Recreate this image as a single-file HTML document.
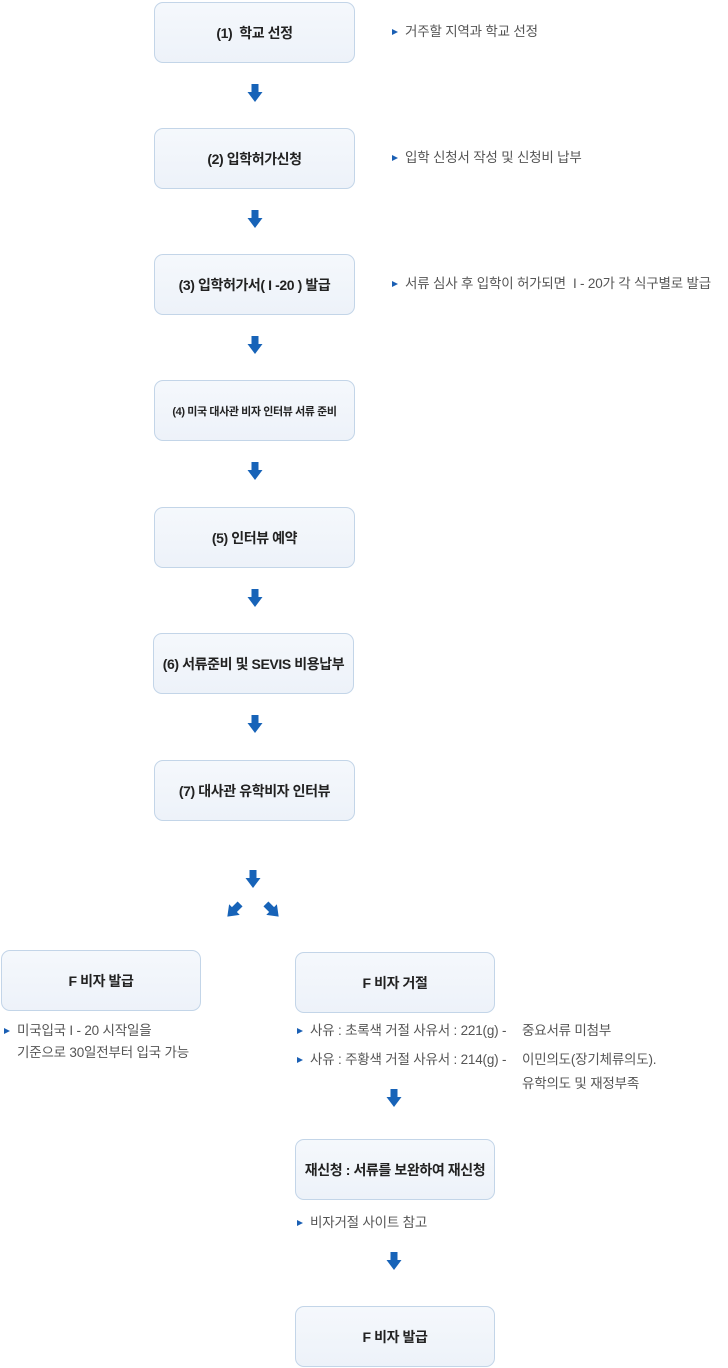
<!DOCTYPE html>
<html><head><meta charset="utf-8"><style>
*{margin:0;padding:0;box-sizing:border-box}
body{width:728px;height:1368px;background:#fff;position:relative;overflow:hidden;font-family:"Liberation Sans","Noto Sans CJK KR",sans-serif}
.b{position:absolute;width:201px;height:61px;border:1px solid #c3d5e8;border-radius:9px;background:linear-gradient(#f5f8fc,#edf2f9);display:flex;align-items:center;justify-content:center;font-weight:bold;font-size:14px;color:#222;letter-spacing:-0.4px}
.t{position:absolute;font-size:13.5px;color:#555;letter-spacing:-0.2px;white-space:nowrap;line-height:20px}
.t i{display:inline-block;width:0;height:0;border-left:6px solid #1a5fb4;border-top:3.5px solid transparent;border-bottom:3.5px solid transparent;margin-right:7px;vertical-align:1px}
svg{position:absolute}
</style></head><body>
<div class="b" style="left:154px;top:2px">(1)&nbsp; 학교 선정</div>
<div class="b" style="left:154px;top:128px">(2) 입학허가신청</div>
<div class="b" style="left:154px;top:254px">(3) 입학허가서( I -20 ) 발급</div>
<div class="b" style="left:154px;top:380px;font-size:11px">(4) 미국 대사관 비자 인터뷰 서류 준비</div>
<div class="b" style="left:154px;top:507px">(5) 인터뷰 예약</div>
<div class="b" style="left:153px;top:633px">(6) 서류준비 및 SEVIS 비용납부</div>
<div class="b" style="left:154px;top:760px">(7) 대사관 유학비자 인터뷰</div>
<div class="b" style="left:1px;top:950px;width:200px">F 비자 발급</div>
<div class="b" style="left:295px;top:952px;width:200px">F 비자 거절</div>
<div class="b" style="left:295px;top:1139px;width:200px">재신청 : 서류를 보완하여 재신청</div>
<div class="b" style="left:295px;top:1306px;width:200px">F 비자 발급</div>

<div class="t" style="left:392px;top:22px"><i></i>거주할 지역과 학교 선정</div>
<div class="t" style="left:392px;top:148px"><i></i>입학 신청서 작성 및 신청비 납부</div>
<div class="t" style="left:392px;top:274px"><i></i>서류 심사 후 입학이 허가되면&nbsp; I - 20가 각 식구별로 발급</div>
<div class="t" style="left:4px;top:1021px"><i></i>미국입국 I - 20 시작일을</div>
<div class="t" style="left:17px;top:1043px">기준으로 30일전부터 입국 가능</div>
<div class="t" style="left:297px;top:1021px"><i></i>사유 : 초록색 거절 사유서 : 221(g) -</div>
<div class="t" style="left:522px;top:1021px">중요서류 미첨부</div>
<div class="t" style="left:297px;top:1050px"><i></i>사유 : 주황색 거절 사유서 : 214(g) -</div>
<div class="t" style="left:522px;top:1050px">이민의도(장기체류의도).</div>
<div class="t" style="left:522px;top:1074px">유학의도 및 재정부족</div>
<div class="t" style="left:297px;top:1213px"><i></i>비자거절 사이트 참고</div>

<svg width="728" height="1368" style="left:0;top:0">
<defs><polygon id="a" points="-3.5,-10 3.5,-10 3.5,-2 7.5,-2 0,8 -7.5,-2 -3.5,-2" fill="#1763b8"/></defs>
<use href="#a" x="255" y="94"/>
<use href="#a" x="255" y="220"/>
<use href="#a" x="255" y="346"/>
<use href="#a" x="255" y="472"/>
<use href="#a" x="255" y="599"/>
<use href="#a" x="255" y="725"/>
<use href="#a" x="253" y="880"/>
<use href="#a" transform="translate(233,911) rotate(45)"/>
<use href="#a" transform="translate(273,911) rotate(-45)"/>
<use href="#a" x="394" y="1099"/>
<use href="#a" x="394" y="1262"/>
</svg>
</body></html>
